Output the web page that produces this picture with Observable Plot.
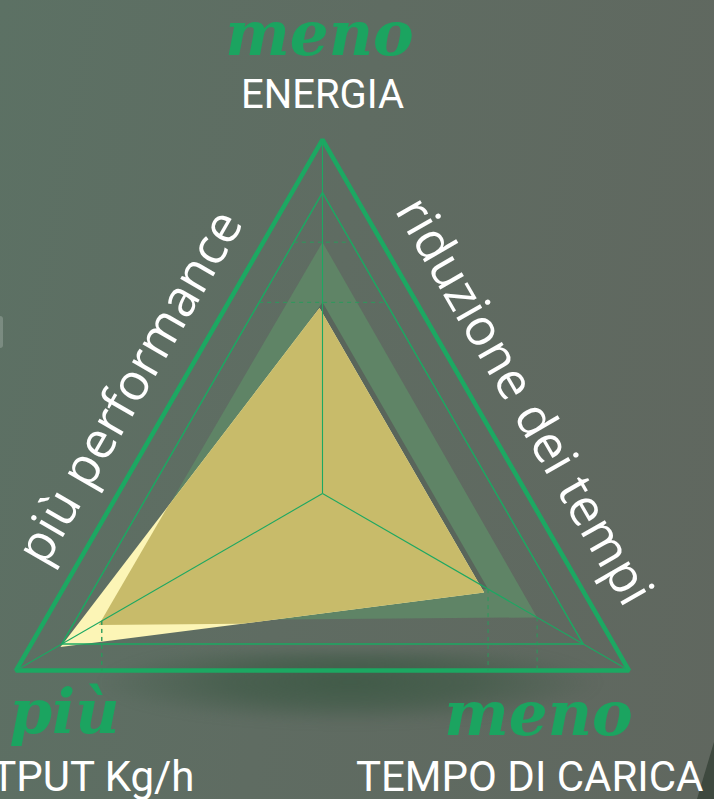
<!DOCTYPE html>
<html><head><meta charset="utf-8">
<script src="https://cdn.jsdelivr.net/npm/d3@7"></script>
<script src="https://cdn.jsdelivr.net/npm/@observablehq/plot@0.6"></script>
<style>
html,body{margin:0;padding:0;}
body{width:714px;height:799px;overflow:hidden;position:relative;
 background: linear-gradient(100deg, #5c7164 0%, #5f6c62 45%, #60675f 100%);}
#shadow{position:absolute;left:100px;top:652px;width:500px;height:76px;
 background: radial-gradient(ellipse 50% 55% at 50% 40%, rgba(60,88,68,0.85) 0%, rgba(60,88,68,0.6) 50%, rgba(60,88,68,0) 100%); filter: blur(5px);}
#corner{position:absolute;left:0;top:0;width:714px;height:799px;background:#3e493f;clip-path:polygon(714px 742px,714px 799px,697px 799px);}
#glint{position:absolute;left:0;top:316px;width:3px;height:32px;background:rgba(230,235,230,0.22);border-radius:0 4px 4px 0;filter:blur(0.5px);}
#chart{position:absolute;left:0;top:0;}
</style></head><body>
<div id="shadow"></div><div id="corner"></div><div id="glint"></div><div id="chart"></div>
<script>
// ---- data ----
const axes = ["ENERGIA", "TEMPO DI CARICA", "OUTPUT Kg/h"];
const axisAngles = [90, -30, 210];
const hints = ["meno", "meno", "più"];
const greenValues = [0.71, 0.70, 0.72];   // attuale
const baseValues = [0.54, 0.54, 0.72];    // nuovo (base / ombra)
const yellowValues = [0.535, 0.537, 0.845]; // nuovo (con più output)
const gridLevels = [0.85, 1];
const sideLabels = ["più performance", "riduzione dei tempi"];

// ---- geometry helpers ----
const CX = 322, CY = 493, RPX = 354;
const P = (px, py) => ({x: (px - CX) / RPX, y: (CY - py) / RPX});
const rad = a => a * Math.PI / 180;
const pt = (i, r) => ({x: r * Math.cos(rad(axisAngles[i])), y: r * Math.sin(rad(axisAngles[i]))});
const poly = (vals, name) => vals.map((v, i) => ({name, ...pt(i, v)}));

function clip(subject, clipPoly) {
  const area = d3.sum(clipPoly, (p, i) => {
    const q = clipPoly[(i + 1) % clipPoly.length];
    return p.x * q.y - q.x * p.y;
  });
  const s = Math.sign(area);
  let out = subject;
  for (let i = 0; i < clipPoly.length; i++) {
    const A = clipPoly[i], B = clipPoly[(i + 1) % clipPoly.length];
    const inside = p => s * ((B.x - A.x) * (p.y - A.y) - (B.y - A.y) * (p.x - A.x)) >= 0;
    const inter = (p, q) => {
      const r = {x: q.x - p.x, y: q.y - p.y}, e = {x: B.x - A.x, y: B.y - A.y};
      const t = ((A.x - p.x) * e.y - (A.y - p.y) * e.x) / (r.x * e.y - r.y * e.x);
      return {x: p.x + t * r.x, y: p.y + t * r.y};
    };
    const input = out; out = [];
    for (let j = 0; j < input.length; j++) {
      const cur = input[j], prev = input[(j + input.length - 1) % input.length];
      if (inside(cur)) { if (!inside(prev)) out.push(inter(prev, cur)); out.push(cur); }
      else if (inside(prev)) out.push(inter(prev, cur));
    }
  }
  return out;
}

const greenPoly = poly(greenValues, "green");
const basePoly = poly(baseValues, "base");
const yellowPoly = poly(yellowValues, "yellow");
const darkYellowPoly = clip(yellowPoly, greenPoly);

const gridPolys = gridLevels.map(l => axes.map((a, i) => ({level: l, ...pt(i, l)})));
const spokes = axes.map((a, i) => ({x1: 0, y1: 0, x2: pt(i, 1).x, y2: pt(i, 1).y}));

const t30 = Math.tan(rad(30)), c30 = Math.cos(rad(30));
const hDash = [greenValues[0], baseValues[0]].map(v => {
  const hw = (gridLevels[0] - v) * t30;
  return {x1: -hw, x2: hw, y1: v, y2: v};
});
const vDash = [
  {v: greenValues[1], s: 1}, {v: baseValues[1], s: 1},
  {v: greenValues[2], s: -1}, {v: baseValues[2], s: -1}
].map(({v, s}) => ({x1: s * v * c30, x2: s * v * c30, y1: -v * 0.5, y2: -0.5}));

// ---- layout of texts ----
const topLabel = [{text: axes[0], ...P(322, 107)}];
const bottomLabels = [
  {text: axes[1], ...P(703, 790)},
  {text: axes[2], ...P(194, 790)}
];
const hintLabels = [
  {text: hints[0], ...P(319, 54)},
  {text: hints[1], ...P(538, 734)},
  {text: hints[2], ...P(64, 732)}
];
const sides = [
  {text: sideLabels[0], ...P(144, 395)},
  {text: sideLabels[1], ...P(509, 409)}
];

const GREEN = "#1ca862";
const textBase = {x: "x", y: "y", text: "text", lineAnchor: "bottom"};
const chart = Plot.plot({
  width: 714, height: 799,
  marginTop: 0, marginRight: 0, marginBottom: 0, marginLeft: 0,
  x: {domain: [-CX / RPX, (714 - CX) / RPX], range: [0, 714], axis: null},
  y: {domain: [(CY - 799) / RPX, CY / RPX], range: [799, 0], axis: null},
  style: {background: "transparent", overflow: "visible"},
  marks: [
    Plot.line(greenPoly, {x: "x", y: "y", curve: "linear-closed", fill: "#5f8466", stroke: "none"}),
    Plot.line(basePoly, {x: "x", y: "y", curve: "linear-closed", fill: "#59655b", stroke: "none"}),
    Plot.line(yellowPoly, {x: "x", y: "y", curve: "linear-closed", fill: "#fcf5b6", stroke: "none", dx: -3, dy: 4}),
    Plot.line(darkYellowPoly, {x: "x", y: "y", curve: "linear-closed", fill: "#c8bb6a", stroke: "none", dx: -3, dy: 4}),
    Plot.line(gridPolys[0], {x: "x", y: "y", curve: "linear-closed", stroke: GREEN, strokeWidth: 1.5}),
    Plot.line(gridPolys[1], {x: "x", y: "y", curve: "linear-closed", stroke: GREEN, strokeWidth: 4.5, strokeLinejoin: "miter"}),
    Plot.link(spokes, {x1: "x1", y1: "y1", x2: "x2", y2: "y2", stroke: GREEN, strokeWidth: 1.1}),
    Plot.link(hDash, {x1: "x1", y1: "y1", x2: "x2", y2: "y2", stroke: "#2b9a5c", strokeWidth: 1, strokeDasharray: "4,4"}),
    Plot.link(vDash, {x1: "x1", y1: "y1", x2: "x2", y2: "y2", stroke: "#2b9a5c", strokeWidth: 1, strokeDasharray: "4,4"}),
    Plot.text(topLabel, {...textBase, textAnchor: "middle",
      fill: "#ffffff", fontSize: 40, fontFamily: "Roboto", fontWeight: 400}),
    Plot.text(bottomLabels, {...textBase, textAnchor: "end",
      fill: "#ffffff", fontSize: 42, fontFamily: "Roboto", fontWeight: 400}),
    Plot.text(hintLabels, {...textBase, textAnchor: "middle", fill: "#1ba460",
      fontSize: 61, fontFamily: "DejaVu Serif", fontWeight: "bold", fontStyle: "italic"}),
    Plot.text(sides.slice(0, 1), {...textBase, textAnchor: "middle", rotate: -60,
      fill: "#ffffff", fontSize: 51, fontFamily: "Open Sans"}),
    Plot.text(sides.slice(1), {...textBase, textAnchor: "middle", rotate: 60,
      fill: "#ffffff", fontSize: 51, fontFamily: "Open Sans"})
  ]
});
document.getElementById("chart").appendChild(chart);
</script>
</body></html>
